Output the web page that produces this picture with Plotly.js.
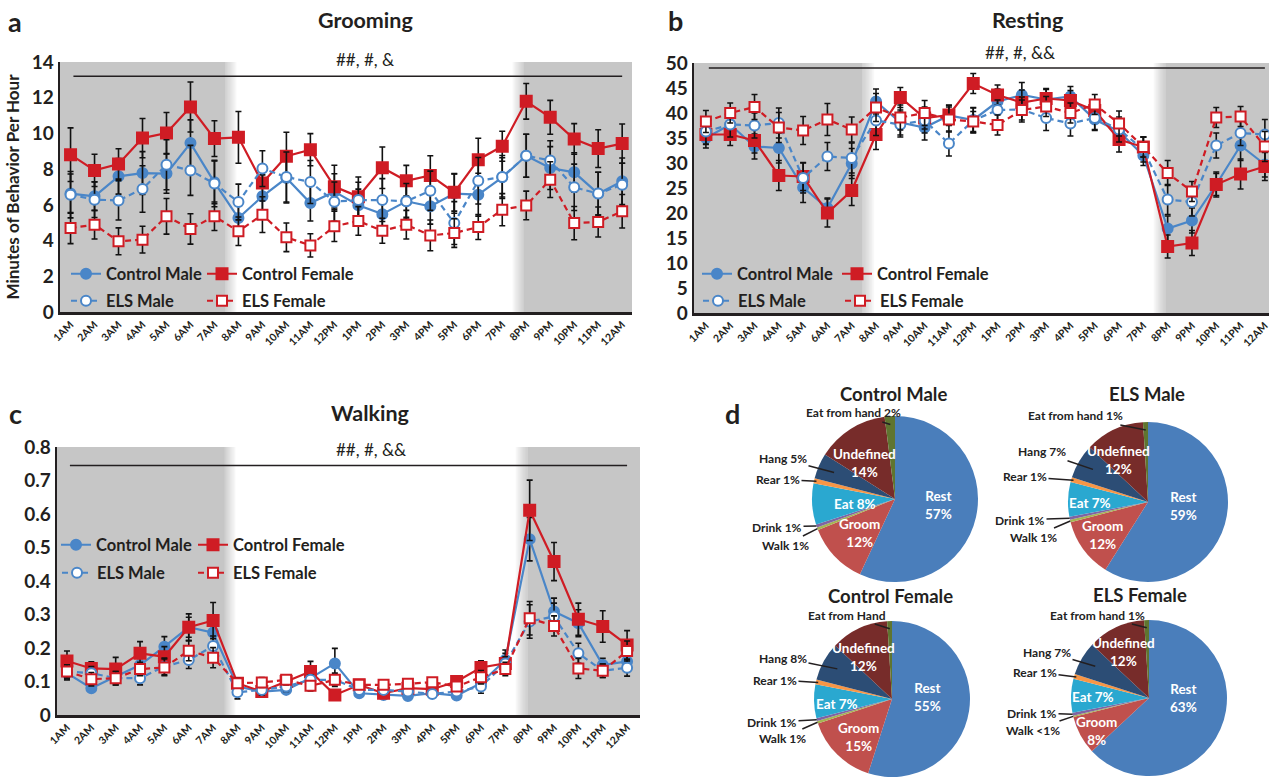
<!DOCTYPE html>
<html><head><meta charset="utf-8">
<script src="https://cdn.plot.ly/plotly-3.0.1.min.js"></script>
<style>html,body{margin:0;padding:0;background:#fff}#chart{width:1269px;height:777px}</style>
</head><body><div id="chart"></div>
<script>
// ---------------- DATA ----------------
const hours = ['1AM','2AM','3AM','4AM','5AM','6AM','7AM','8AM','9AM','10AM','11AM','12PM','1PM','2PM','3PM','4PM','5PM','6PM','7PM','8PM','9PM','10PM','11PM','12AM'];
const seriesNames = ['Control Male','Control Female','ELS Male','ELS Female'];

// Grooming (minutes per hour)
const groomCtrlMale      = [6.63,6.48,7.60,7.78,7.75,9.46,7.26,5.26,6.48,7.50,6.10,6.74,5.98,5.48,6.20,5.92,6.63,6.57,7.54,8.75,8.06,7.82,6.63,7.32];
const groomCtrlMaleErr   = [1.1,0.8,1.0,1.2,1.1,1.3,1.2,0.9,1.2,1.4,1.0,1.0,0.9,1.0,0.9,1.0,1.1,1.2,1.1,1.2,1.2,1.1,1.2,1.3];
const groomCtrlFemale    = [8.81,7.93,8.29,9.74,10.02,11.48,9.71,9.78,7.22,8.72,9.09,7.02,6.46,8.08,7.35,7.65,6.70,8.53,9.28,11.80,10.90,9.69,9.15,9.43];
const groomCtrlFemaleErr = [1.5,0.9,0.85,1.1,1.15,1.4,1.0,1.45,1.0,1.35,0.9,1.2,1.1,1.16,0.86,1.1,1.05,1.2,0.84,1.0,0.95,0.86,1.06,1.1];
const groomElsMale       = [6.57,6.29,6.25,6.89,8.25,7.93,7.19,6.16,8.03,7.56,7.28,6.18,6.27,6.27,6.20,6.79,4.98,7.35,7.56,8.75,8.49,6.98,6.63,7.13];
const groomElsMaleErr    = [1.3,1.0,1.1,1.3,1.4,1.4,1.3,1.0,1.0,1.4,1.2,1.1,1.0,1.2,1.0,1.1,1.2,1.3,1.2,1.2,1.1,1.3,1.2,1.2];
const groomElsFemale     = [4.70,4.89,3.96,4.05,5.36,4.65,5.36,4.52,5.45,4.18,3.73,4.80,5.10,4.55,4.89,4.29,4.42,4.76,5.73,5.97,7.41,4.98,5.04,5.64];
const groomElsFemaleErr  = [0.87,0.8,0.75,0.75,1.0,0.85,0.8,0.8,1.0,0.8,0.65,0.85,0.8,0.7,0.8,0.86,0.8,0.7,0.9,0.8,1.0,0.93,0.84,0.94];

// Resting
const restCtrlMale      = [35.0,37.7,33.3,33.0,25.1,21.0,29.9,42.3,38.1,37.1,39.5,38.6,42.3,43.6,42.7,43.3,38.7,36.3,31.5,16.9,18.5,25.7,33.5,29.7];
const restCtrlMaleErr   = [2.0,2.5,2.5,3.0,3.0,2.0,3.0,2.5,2.5,2.5,2.0,2.5,2.5,2.5,2.0,2.0,2.0,2.5,2.0,2.5,2.5,2.5,3.0,2.5];
const restCtrlFemale    = [35.7,35.7,34.5,27.5,27.3,20.0,24.5,35.7,43.1,39.0,39.6,45.9,43.6,42.1,42.9,42.5,40.5,34.7,33.2,13.3,14.0,25.7,27.8,29.3];
const restCtrlFemaleErr = [2.0,2.2,2.5,3.0,2.8,2.8,3.0,3.0,2.0,2.2,2.0,2.0,2.0,2.5,2.0,2.0,2.0,2.5,2.0,2.3,2.5,2.2,3.0,2.8];
const restElsMale       = [36.3,37.7,37.5,38.0,27.0,31.3,31.0,38.5,37.7,38.5,33.9,38.5,40.6,40.7,39.0,37.9,39.0,36.7,32.7,22.7,22.2,33.5,36.0,35.7];
const restElsMaleErr    = [2.5,2.5,2.5,3.0,3.0,2.8,3.0,3.0,2.5,2.5,2.5,2.5,2.0,2.5,2.5,2.5,2.5,2.5,2.5,3.0,2.8,2.5,2.5,3.0];
const restElsFemale     = [38.3,40.0,41.2,37.1,36.5,38.7,36.7,41.1,39.1,40.0,38.7,38.3,37.6,40.6,41.3,40.0,41.7,37.9,33.2,28.0,24.3,39.1,39.3,33.3];
const restElsFemaleErr  = [2.2,2.0,2.5,3.0,2.8,3.2,2.5,2.8,2.5,2.5,2.5,2.0,2.0,2.0,2.0,2.0,2.0,2.5,2.0,2.5,2.0,2.0,2.0,3.0];

// Walking
const walkCtrlMale      = [0.125,0.080,0.115,0.149,0.204,0.262,0.246,0.085,0.070,0.075,0.110,0.154,0.065,0.060,0.057,0.065,0.058,0.095,0.164,0.525,0.309,0.274,0.149,0.160];
const walkCtrlMaleErr   = [0.02,0.01,0.02,0.02,0.03,0.03,0.03,0.02,0.01,0.01,0.015,0.045,0.01,0.01,0.01,0.01,0.01,0.02,0.03,0.065,0.04,0.04,0.02,0.03];
const walkCtrlFemale    = [0.161,0.139,0.137,0.184,0.174,0.262,0.282,0.095,0.070,0.100,0.130,0.060,0.090,0.065,0.080,0.077,0.100,0.142,0.154,0.611,0.458,0.286,0.264,0.209];
const walkCtrlFemaleErr = [0.03,0.02,0.035,0.035,0.03,0.04,0.054,0.015,0.01,0.02,0.03,0.015,0.015,0.01,0.01,0.01,0.01,0.02,0.03,0.09,0.057,0.048,0.047,0.043];
const walkElsMale       = [0.130,0.125,0.110,0.110,0.145,0.164,0.206,0.068,0.075,0.085,0.105,0.105,0.075,0.075,0.070,0.063,0.070,0.085,0.154,0.279,0.294,0.184,0.132,0.141];
const walkElsMaleErr    = [0.02,0.02,0.02,0.02,0.025,0.025,0.03,0.02,0.015,0.015,0.015,0.02,0.01,0.01,0.01,0.01,0.01,0.02,0.02,0.05,0.04,0.03,0.02,0.025];
const walkElsFemale     = [0.130,0.107,0.110,0.137,0.142,0.192,0.171,0.095,0.097,0.105,0.087,0.105,0.090,0.090,0.093,0.098,0.085,0.113,0.137,0.289,0.266,0.139,0.132,0.191];
const walkElsFemaleErr  = [0.02,0.02,0.02,0.02,0.025,0.03,0.03,0.015,0.015,0.015,0.015,0.015,0.01,0.01,0.01,0.01,0.01,0.02,0.02,0.05,0.03,0.03,0.02,0.03];

// Time budgets (% of time)
const pieCategories  = ['Rest','Groom','Walk','Drink','Eat','Rear','Hang','Undefined','Eat from hand'];
const ctrlMalePie    = [57,12,0.5,0.6,8,1,5,14,2];
const elsMalePie     = [59,12,0.5,0.6,7,1,7,12,1];
const ctrlFemalePie  = [55,15,0.5,0.6,7,1,8,12,1];
const elsFemalePie   = [63,8,0.3,0.6,7,1,7,12,1];
const ctrlMaleText   = ['Rest<br>57%','Groom<br>12%','Walk 1%','Drink 1%','Eat 8%','Rear 1%','Hang 5%','Undefined<br>14%','Eat from hand 2%'];
const elsMaleText    = ['Rest<br>59%','Groom<br>12%','Walk 1%','Drink 1%','Eat 7%','Rear 1%','Hang 7%','Undefined<br>12%','Eat from hand 1%'];
const ctrlFemaleText = ['Rest<br>55%','Groom<br>15%','Walk 1%','Drink 1%','Eat 7%','Rear 1%','Hang 8%','Undefined<br>12%','Eat from Hand'];
const elsFemaleText  = ['Rest<br>63%','Groom<br>8%','Walk <1%','Drink 1%','Eat 7%','Rear 1%','Hang 7%','Undefined<br>12%','Eat from hand 1%'];

// ---------------- LAYOUT HELPERS ----------------
const W = 1269, H = 777;
const px = x => x / W;
const py = y => 1 - y / H;
const FONT = 'Lato, "Open Sans", sans-serif';
const INK = '#231f20';
const BLUE = '#4a86c8';
const RED = '#cf1c24';
const GRAY = 'rgb(198,198,198)';

const styles = [
  {color: BLUE, dash: 'solid',   symbol: 'circle', fill: BLUE, size: 10},
  {color: RED,  dash: 'solid',   symbol: 'square', fill: RED,  size: 11},
  {color: BLUE, dash: '6px,4px', symbol: 'circle', fill: '#fff', size: 10},
  {color: RED,  dash: '6px,4px', symbol: 'square', fill: '#fff', size: 10}
];

const panels = [
  {xa: 'x',  ya: 'y',  data: [[groomCtrlMale,groomCtrlMaleErr],[groomCtrlFemale,groomCtrlFemaleErr],[groomElsMale,groomElsMaleErr],[groomElsFemale,groomElsFemaleErr]],
   legendPos: [[66,274],[202,274],[66,301],[202,301]]},
  {xa: 'x2', ya: 'y2', data: [[restCtrlMale,restCtrlMaleErr],[restCtrlFemale,restCtrlFemaleErr],[restElsMale,restElsMaleErr],[restElsFemale,restElsFemaleErr]],
   legendPos: [[697,274],[837,274],[698,301],[840,301]]},
  {xa: 'x3', ya: 'y3', data: [[walkCtrlMale,walkCtrlMaleErr],[walkCtrlFemale,walkCtrlFemaleErr],[walkElsMale,walkElsMaleErr],[walkElsFemale,walkElsFemaleErr]],
   legendPos: [[56,545],[193,545],[57,573],[193,573]]}
];

const traces = [];
const layout = {
  width: W, height: H, margin: {l: 0, r: 0, t: 0, b: 0},
  paper_bgcolor: '#fff', plot_bgcolor: 'rgba(0,0,0,0)',
  font: {family: FONT, color: INK},
  showlegend: true, shapes: [], annotations: []
};

let legendIdx = 1;
panels.forEach(p => {
  p.data.forEach((d, k) => {
    const s = styles[k];
    const lid = legendIdx === 1 ? 'legend' : 'legend' + legendIdx;
    legendIdx++;
    traces.push({
      type: 'scatter', mode: 'lines+markers', x: hours, y: d[0],
      xaxis: p.xa, yaxis: p.ya, name: seriesNames[k], legend: lid,
      line: {color: s.color, width: 2.2, dash: s.dash},
      marker: {symbol: s.symbol, size: s.size, color: s.fill, line: {color: s.color, width: 2}},
      error_y: {type: 'data', array: d[1], visible: true, color: '#111', thickness: 1.6, width: 3},
      cliponaxis: false
    });
    layout[lid] = {
      x: px(p.legendPos[k][0]), y: py(p.legendPos[k][1]), xanchor: 'left', yanchor: 'middle',
      orientation: 'h', bgcolor: 'rgba(0,0,0,0)', borderwidth: 0, itemwidth: 30,
      font: {family: FONT, size: 16.5, weight: 'bold', color: INK}
    };
  });
});

// axes
function xAxis(domain, range, anchor) {
  return {domain, range, anchor, type: 'category', showline: true, linecolor: INK, linewidth: 2.5,
    ticks: '', showgrid: false, zeroline: false, tickangle: -45, automargin: false,
    tickfont: {family: FONT, size: 10.5, weight: 'bold', color: INK}};
}
function yAxis(domain, range, dtick, anchor) {
  return {domain, range, dtick, anchor, showline: true, linecolor: INK, linewidth: 2.5,
    ticks: '', showgrid: false, zeroline: false, automargin: false,
    tickfont: {family: FONT, size: 19, weight: 'bold', color: INK}};
}
layout.xaxis  = xAxis([px(60), px(632)], [-0.44, 23.41], 'y');
layout.yaxis  = yAxis([py(312), py(62)], [0, 14], 2, 'x');
layout.yaxis.title = {text: 'Minutes of Behavior Per Hour', standoff: 8, font: {family: FONT, size: 17, weight: 'bold', color: INK}};
layout.xaxis2 = xAxis([px(694), 1], [-0.49, 23.17], 'y2');
layout.yaxis2 = yAxis([py(313), py(63)], [0, 50], 5, 'x2');
layout.xaxis3 = xAxis([px(57), px(640)], [-0.41, 23.53], 'y3');
layout.yaxis3 = yAxis([py(715), py(447)], [0, 0.8], 0.1, 'x3');

// dark-phase shading with soft edges
const lightStart = 6.45, darkStart = 18.4, fade = 0.5;
function shade(xr, yr) {
  const base = {type: 'rect', xref: xr, yref: yr + ' domain', y0: 0, y1: 1, fillcolor: GRAY, line: {width: 0}, layer: 'below'};
  layout.shapes.push(Object.assign({}, base, {x0: -2, x1: lightStart}));
  layout.shapes.push(Object.assign({}, base, {x0: darkStart + fade, x1: 30}));
  const n = 12;
  for (let i = 0; i < n; i++) {
    const op = 1 - (i + 0.5) / n;
    layout.shapes.push(Object.assign({}, base, {x0: lightStart + fade * i / n, x1: lightStart + fade * (i + 1) / n, opacity: op}));
    layout.shapes.push(Object.assign({}, base, {x0: darkStart + fade - fade * (i + 1) / n, x1: darkStart + fade - fade * i / n, opacity: op}));
  }
}
shade('x', 'y'); shade('x2', 'y2'); shade('x3', 'y3');

// significance bars
function sigLine(xr, yr, yv) {
  layout.shapes.push({type: 'line', xref: xr, yref: yr, x0: 0.12, x1: 23, y0: yv, y1: yv, line: {color: INK, width: 1.6}, layer: 'above'});
}
sigLine('x', 'y', 13.2); sigLine('x2', 'y2', 49.0); sigLine('x3', 'y3', 0.745);

function txt(text, x, y, size, bold, extra) {
  layout.annotations.push(Object.assign({
    text, x: px(x), y: py(y), xref: 'paper', yref: 'paper', showarrow: false,
    xanchor: 'center', yanchor: 'middle',
    font: {family: FONT, size, weight: bold ? 'bold' : 'normal', color: INK}
  }, extra || {}));
}
txt('##, #, &', 365, 59, 17, false);
txt('##, #, &&', 1020, 52, 17, false);
txt('##, #, &&', 371, 450, 17, false);
txt('Grooming', 365, 20, 21.5, true);
txt('Resting', 1027, 20, 21.5, true);
txt('Walking', 370, 413, 21.5, true);
txt('a', 15, 22, 27, true);
txt('b', 675, 20, 27, true);
txt('c', 15, 413, 27, true);
txt('d', 733, 413, 27, true);

// ---------------- PIES ----------------
const pieColors = ['#4a7ebb','#c0504d','#a5b552','#8064a2','#2aa8d0','#f79646','#2c4d75','#772c2a','#5f7530'];
// label placement (pixels): inside labels at given centres; outside labels with leader lines to their slice
const pies = [
  {title: 'Control Male',   values: ctrlMalePie,   text: ctrlMaleText,   box: [812, 978, 416, 582], titlePos: [893, 394],
   inside: {0: [938, 505], 1: [859, 533], 4: [855, 504], 7: [864, 463]},
   outside: {8: [853, 413], 6: [783, 459], 5: [778, 479], 3: [777, 527], 2: [785, 545]}},
  {title: 'ELS Male',       values: elsMalePie,    text: elsMaleText,    box: [1068, 1228, 422, 582], titlePos: [1147, 394],
   inside: {0: [1183, 506], 1: [1102, 535], 4: [1090, 503], 7: [1118, 460]},
   outside: {8: [1075, 416], 6: [1042, 452], 5: [1025, 477], 3: [1020, 520], 2: [1033, 537]}},
  {title: 'Control Female', values: ctrlFemalePie, text: ctrlFemaleText, box: [812, 972, 621, 777], titlePos: [890, 596],
   inside: {0: [928, 697], 1: [858, 737], 4: [837, 704], 7: [863, 657]},
   outside: {8: [847, 615], 6: [783, 658], 5: [775, 680], 3: [772, 722], 2: [782, 738]}},
  {title: 'ELS Female',     values: elsFemalePie,  text: elsFemaleText,  box: [1071, 1227, 620, 776], titlePos: [1140, 595],
   inside: {0: [1183, 698], 1: [1096, 731], 4: [1093, 697], 7: [1123, 652]},
   outside: {8: [1097, 615], 6: [1047, 652], 5: [1035, 672], 3: [1032, 713], 2: [1033, 730]}}
];
const headFrac = {2: 1.0, 3: 1.0, 5: 0.97, 6: 0.8, 8: 0.9};

pies.forEach(p => {
  const [L, R, T, B] = p.box;
  traces.push({
    type: 'pie', values: p.values, labels: pieCategories, sort: false, direction: 'clockwise', rotation: 0,
    domain: {x: [px(L), px(R)], y: [py(B), py(T)]},
    marker: {colors: pieColors, line: {width: 0}}, textinfo: 'none', showlegend: false, hoverinfo: 'label+percent'
  });
  const cx = (L + R) / 2, cy = (T + B) / 2, r = Math.min(R - L, B - T) / 2;
  const total = p.values.reduce((a, b) => a + b, 0);
  let cum = 0;
  p.values.forEach((v, i) => {
    const mid = (cum + v / 2) / total * 2 * Math.PI;
    cum += v;
    const sx = Math.sin(mid), sy = -Math.cos(mid);
    if (p.inside[i]) {
      const lp = p.inside[i];
      layout.annotations.push({
        text: p.text[i], x: px(lp[0]), y: py(lp[1]), xref: 'paper', yref: 'paper',
        showarrow: false, xanchor: 'center', yanchor: 'middle',
        font: {family: FONT, size: 13.5, weight: 'bold', color: '#fff'}
      });
    } else {
      const hx = cx + headFrac[i] * r * sx, hy = cy + headFrac[i] * r * sy;
      const lp = p.outside[i];
      layout.annotations.push({
        text: p.text[i], x: px(hx), y: py(hy), xref: 'paper', yref: 'paper',
        ax: lp[0] - hx, ay: lp[1] - hy, axref: 'pixel', ayref: 'pixel',
        showarrow: true, arrowhead: 0, arrowwidth: 1.5, arrowcolor: INK, standoff: 0,
        font: {family: FONT, size: 12, weight: 'bold', color: '#222'}
      });
    }
  });
  txt(p.title, p.titlePos[0], p.titlePos[1], 18.5, true);
});

Plotly.newPlot('chart', traces, layout, {displayModeBar: false, staticPlot: true});
</script>
</body></html>
